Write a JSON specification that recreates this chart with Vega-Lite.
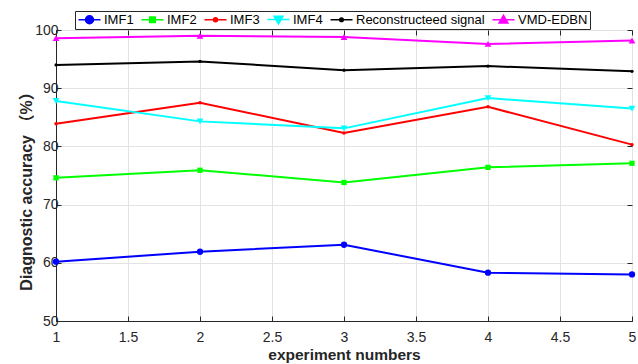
{
  "$schema": "https://vega.github.io/schema/vega-lite/v6.json",
  "width": 576,
  "height": 291,
  "autosize": {"type": "none"},
  "padding": {"left": 56, "top": 30, "right": 6, "bottom": 43},
  "background": "white",
  "config": {
    "view": {"stroke": "#262626", "strokeWidth": 1},
    "font": "Liberation Sans",
    "axis": {
      "domainColor": "#262626",
      "tickColor": "#262626",
      "labelColor": "#262626",
      "titleColor": "#262626",
      "labelFont": "Liberation Sans",
      "labelFontSize": 14,
      "titleFont": "Liberation Sans, Noto Sans CJK SC",
      "titleFontSize": 15.5,
      "titleFontWeight": "bold",
      "gridColor": "#e3e3e3",
      "gridWidth": 1,
      "tickSize": -5,
      "tickWidth": 1
    }
  },
  "data": {
    "values": [
      {"s": "IMF1", "x": 1, "y": 60.2}, {"s": "IMF1", "x": 2, "y": 61.9}, {"s": "IMF1", "x": 3, "y": 63.1}, {"s": "IMF1", "x": 4, "y": 58.3}, {"s": "IMF1", "x": 5, "y": 58.0},
      {"s": "IMF2", "x": 1, "y": 74.6}, {"s": "IMF2", "x": 2, "y": 75.9}, {"s": "IMF2", "x": 3, "y": 73.8}, {"s": "IMF2", "x": 4, "y": 76.4}, {"s": "IMF2", "x": 5, "y": 77.1},
      {"s": "IMF3", "x": 1, "y": 83.9}, {"s": "IMF3", "x": 2, "y": 87.5}, {"s": "IMF3", "x": 3, "y": 82.3}, {"s": "IMF3", "x": 4, "y": 86.8}, {"s": "IMF3", "x": 5, "y": 80.3},
      {"s": "IMF4", "x": 1, "y": 87.8}, {"s": "IMF4", "x": 2, "y": 84.3}, {"s": "IMF4", "x": 3, "y": 83.1}, {"s": "IMF4", "x": 4, "y": 88.3}, {"s": "IMF4", "x": 5, "y": 86.5},
      {"s": "Reconstructeed signal", "x": 1, "y": 94.0}, {"s": "Reconstructeed signal", "x": 2, "y": 94.6}, {"s": "Reconstructeed signal", "x": 3, "y": 93.1}, {"s": "Reconstructeed signal", "x": 4, "y": 93.8}, {"s": "Reconstructeed signal", "x": 5, "y": 92.9},
      {"s": "VMD-EDBN", "x": 1, "y": 98.6}, {"s": "VMD-EDBN", "x": 2, "y": 99.0}, {"s": "VMD-EDBN", "x": 3, "y": 98.8}, {"s": "VMD-EDBN", "x": 4, "y": 97.6}, {"s": "VMD-EDBN", "x": 5, "y": 98.2}
    ]
  },
  "layer": [
    {
      "mark": {"type": "line", "strokeWidth": 2},
      "encoding": {
        "x": {"field": "x", "type": "quantitative", "scale": {"domain": [1, 5], "nice": false, "zero": false},
              "axis": {"orient": "bottom", "values": [1, 1.5, 2, 2.5, 3, 3.5, 4, 4.5, 5], "format": "~g", "title": "experiment numbers", "labelPadding": 14, "titlePadding": 3, "labelFlush": false}},
        "y": {"field": "y", "type": "quantitative", "scale": {"domain": [50, 100], "nice": false, "zero": false},
              "axis": {"orient": "left", "values": [50, 60, 70, 80, 90, 100], "title": "Diagnostic accuracy （%）", "titleFontSize": 16, "labelPadding": 3, "titlePadding": 0, "titleY": 157}},
        "color": {"field": "s", "type": "nominal",
                  "scale": {"domain": ["IMF1", "IMF2", "IMF3", "IMF4", "Reconstructeed signal", "VMD-EDBN"],
                            "range": ["#0000ff", "#00ff00", "#ff0000", "#00ffff", "#000000", "#ff00ff"]},
                  "legend": {
                    "orient": "none", "legendX": 19, "legendY": -19, "direction": "horizontal", "columns": 6,
                    "title": null, "fillColor": "white", "strokeColor": "#262626", "padding": 2,
                    "labelFont": "Liberation Sans", "labelFontSize": 13, "labelColor": "#000000",
                    "symbolSize": 16, "symbolOffset": 6, "labelOffset": 8, "columnPadding": 4, "symbolStrokeWidth": 1.5,
                    "encode": {"symbols": {"update": {
                      "shape": {"signal": "datum.value === 'IMF1' ? 'M-5.5,0H5.5M-2,0A2,2,0,1,1,2,0A2,2,0,1,1,-2,0Z' : datum.value === 'IMF2' ? 'M-5.5,0H5.5M-1.4,-1.4H1.4V1.4H-1.4Z' : datum.value === 'IMF3' ? 'M-5.5,0H5.5M-1,0A1,1,0,1,1,1,0A1,1,0,1,1,-1,0Z' : datum.value === 'IMF4' ? 'M-5.5,0H5.5M-2.2,-1.6H2.2L0,2.2Z' : datum.value === 'VMD-EDBN' ? 'M-5.5,0H5.5M-2.2,1.6H2.2L0,-2.2Z' : 'M-5.5,0H5.5M-0.9,0A0.9,0.9,0,1,1,0.9,0A0.9,0.9,0,1,1,-0.9,0Z'"},
                      "size": {"value": 16},
                      "fill": {"scale": "color", "field": "value"},
                      "stroke": {"scale": "color", "field": "value"},
                      "strokeWidth": {"value": 1.5},
                      "opacity": {"value": 1}
                    }}}
                  }}
      }
    },
    {
      "transform": [{"filter": "datum.s === 'IMF1'"}],
      "mark": {"type": "point", "shape": "circle", "filled": true, "opacity": 1, "size": 40, "color": "#0000ff"},
      "encoding": {"x": {"field": "x", "type": "quantitative", "axis": null}, "y": {"field": "y", "type": "quantitative", "axis": null}}
    },
    {
      "transform": [{"filter": "datum.s === 'IMF2'"}],
      "mark": {"type": "point", "shape": "square", "filled": true, "opacity": 1, "size": 28, "color": "#00ff00"},
      "encoding": {"x": {"field": "x", "type": "quantitative", "axis": null}, "y": {"field": "y", "type": "quantitative", "axis": null}}
    },
    {
      "transform": [{"filter": "datum.s === 'IMF3'"}],
      "mark": {"type": "point", "shape": "circle", "filled": true, "opacity": 1, "size": 12, "color": "#ff0000"},
      "encoding": {"x": {"field": "x", "type": "quantitative", "axis": null}, "y": {"field": "y", "type": "quantitative", "axis": null}}
    },
    {
      "transform": [{"filter": "datum.s === 'IMF4'"}],
      "mark": {"type": "point", "shape": "triangle-down", "filled": true, "opacity": 1, "size": 45, "color": "#00ffff"},
      "encoding": {"x": {"field": "x", "type": "quantitative", "axis": null}, "y": {"field": "y", "type": "quantitative", "axis": null}}
    },
    {
      "transform": [{"filter": "datum.s === 'Reconstructeed signal'"}],
      "mark": {"type": "point", "shape": "circle", "filled": true, "opacity": 1, "size": 10, "color": "#000000"},
      "encoding": {"x": {"field": "x", "type": "quantitative", "axis": null}, "y": {"field": "y", "type": "quantitative", "axis": null}}
    },
    {
      "transform": [{"filter": "datum.s === 'VMD-EDBN'"}],
      "mark": {"type": "point", "shape": "triangle-up", "filled": true, "opacity": 1, "size": 45, "color": "#ff00ff"},
      "encoding": {"x": {"field": "x", "type": "quantitative", "axis": null}, "y": {"field": "y", "type": "quantitative", "axis": null}}
    },
    {
      "mark": {"type": "point", "opacity": 0},
      "encoding": {
        "x": {"field": "x", "type": "quantitative",
              "axis": {"orient": "top", "values": [1, 1.5, 2, 2.5, 3, 3.5, 4, 4.5, 5], "labels": false, "title": null, "grid": true, "domain": false}},
        "y": {"field": "y", "type": "quantitative",
              "axis": {"orient": "right", "values": [50, 60, 70, 80, 90, 100], "labels": false, "title": null, "grid": true, "domain": false}}
      }
    }
  ],
  "resolve": {"axis": {"x": "independent", "y": "independent"}}
}
